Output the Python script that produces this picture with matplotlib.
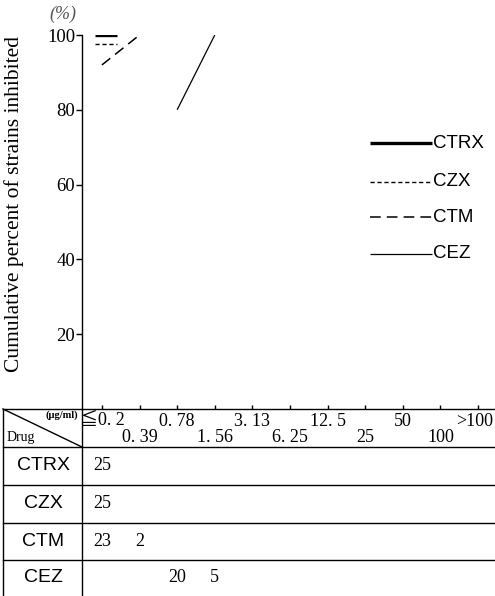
import numpy as np
import matplotlib
matplotlib.use("Agg")
import matplotlib.pyplot as plt
import matplotlib.transforms as mtransforms

# MIC categories (ug/ml)
mic_labels = ['≦0. 2', '0. 39', '0. 78', '1. 56', '3. 13', '6. 25',
              '12. 5', '25', '50', '100', '>100']
drugs = ['CTRX', 'CZX', 'CTM', 'CEZ']
# number of strains inhibited at each MIC
ctrx = [25, 0, 0, 0, 0, 0, 0, 0, 0, 0, 0]
czx = [25, 0, 0, 0, 0, 0, 0, 0, 0, 0, 0]
ctm = [23, 2, 0, 0, 0, 0, 0, 0, 0, 0, 0]
cez = [0, 0, 20, 5, 0, 0, 0, 0, 0, 0, 0]
counts = [ctrx, czx, ctm, cez]

styles = {
    'CTRX': dict(lw=2.4, ls='-'),
    'CZX': dict(lw=1.0, ls=(0, (3, 2))),
    'CTM': dict(lw=1.1, ls=(0, (7, 4))),
    'CEZ': dict(lw=0.9, ls='-'),
}

serif = ['Liberation Serif', 'Noto Sans CJK JP', 'DejaVu Sans']
sans = ['Liberation Sans', 'DejaVu Sans']

W, H = 495, 596
fig = plt.figure(figsize=(W / 100, H / 100), dpi=100)

# main plot area (pixel layout: x 82..495, y 35..409)
ax = fig.add_axes([82 / W, 1 - 409 / H, 1 - 82 / W, 374 / H])
ax.set_xlim(-0.53, 10.45)
ax.set_ylim(0, 100)
for s in ['top', 'right', 'bottom']:
    ax.spines[s].set_visible(False)
ax.spines['left'].set_linewidth(1.0)
ax.set_yticks([20, 40, 60, 80, 100])
ax.set_yticklabels(['20', '40', '60', '80', '100'], fontfamily=serif, fontsize=13.5)
ax.tick_params(axis='y', direction='out', length=4, width=1, pad=1)
ax.set_xticks(range(len(mic_labels)))
ax.set_xticklabels([])
ax.tick_params(axis='x', direction='in', length=3, width=1)
ax.patch.set_alpha(0)

# cumulative curves
for name, c in zip(drugs, counts):
    c = np.array(c)
    cum = np.cumsum(c) / c.sum() * 100
    first = np.nonzero(c)[0][0]
    last = np.nonzero(cum >= 100)[0][0]
    xs = np.arange(first, last + 1)
    ys = cum[first:last + 1]
    tr = ax.transData
    if name == 'CZX':
        # shifted down slightly so it does not overlap CTRX
        tr = tr + mtransforms.ScaledTranslation(0, -0.09, fig.dpi_scale_trans)
    if len(xs) == 1:
        xs = np.array([xs[0] - 0.19, xs[0] + 0.4])
        ys = np.array([ys[0], ys[0]])
    ax.plot(xs, ys, color='black', transform=tr, solid_capstyle='butt', **styles[name])

# overlay in pixel coordinates for the table and decorations
ov = fig.add_axes([0, 0, 1, 1])
ov.set_xlim(0, W)
ov.set_ylim(H, 0)
ov.axis('off')
ov.patch.set_alpha(0)

ov.text(63, 14, '(%)', ha='center', va='center', fontfamily=serif,
        fontsize=13, color='#555555', style='italic')
ov.text(14, 204, 'Cumulative percent of strains inhibited', rotation=90,
        ha='center', va='center', fontfamily=serif, fontsize=15.5)

# legend
leg_y = [143, 182, 217, 254]
for name, y in zip(drugs, leg_y):
    ov.plot([370, 432], [y, y], color='black', solid_capstyle='butt', **styles[name])
    ov.text(433, y, name, ha='left', va='center', fontfamily=sans, fontsize=13.5)

# table
row_lines = [409, 447, 485, 523, 560]
for y in row_lines:
    ov.plot([3, W], [y, y], color='black', lw=1.0)
ov.plot([3, 3], [409, H], color='black', lw=1.0)
ov.plot([82, 82], [409, H], color='black', lw=1.0)
ov.plot([3, 82], [409, 447], color='black', lw=1.0)
ov.text(78, 415, '(μg/ml)', ha='right', va='center', fontfamily=serif,
        fontsize=7.5, fontweight='bold')
ov.text(7, 437, 'Drug', ha='left', va='center', fontfamily=serif, fontsize=10)

col_tr = mtransforms.blended_transform_factory(ax.transData, ov.transData)
for i, lab in enumerate(mic_labels):
    y = 421 if i % 2 == 0 else 437
    if i == len(mic_labels) - 1:
        ov.text(W - 2, y, lab, ha='right', va='center',
                fontfamily=serif, fontsize=13)
    else:
        ov.text(i, y, lab, transform=col_tr, ha='center', va='center',
                fontfamily=serif, fontsize=13)

row_y = [466, 503, 541, 578]
for name, c, y in zip(drugs, counts, row_y):
    ov.text(43, y, name, ha='center', va='center', fontfamily=sans, fontsize=14)
    for i, n in enumerate(c):
        if n:
            ov.text(i, y, str(n), transform=col_tr, ha='center', va='center',
                    fontfamily=serif, fontsize=13)

fig.savefig('out.png', dpi=100)
